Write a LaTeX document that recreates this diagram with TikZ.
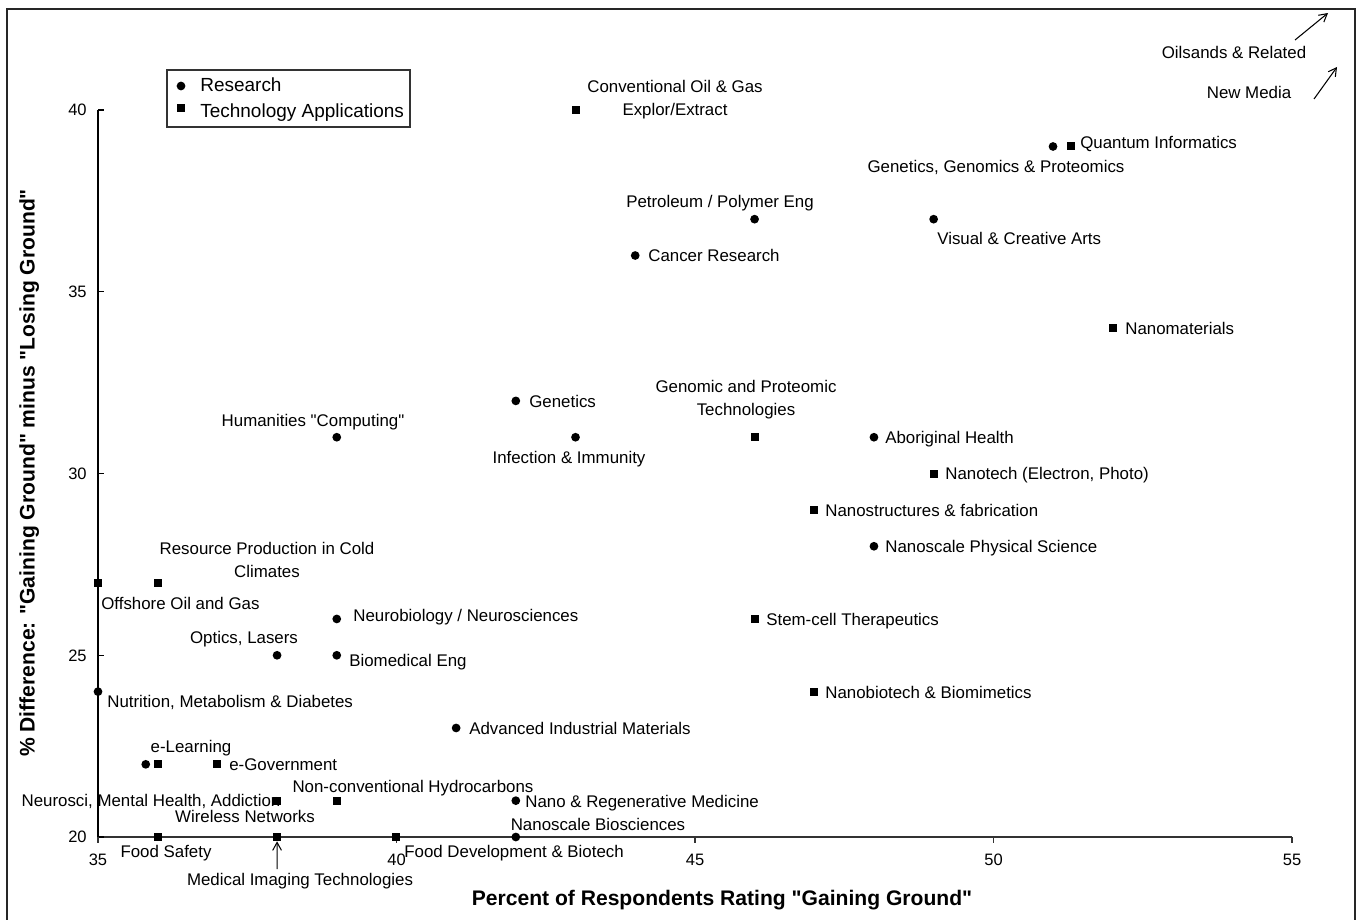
\documentclass[tikz,border=0pt]{standalone}
\usepackage{fontspec}
\setmainfont{Liberation Sans}[Ligatures=TeXOff]
\usetikzlibrary{arrows.meta}
\newcommand\lblfont{\fontsize{9.6}{12.6}\selectfont}
\newcommand\tickfont{\fontsize{9.4}{11}\selectfont}
\newcommand\legfont{\fontsize{10.8}{13.4}\selectfont}
\newcommand\titfont{\fontsize{12}{14}\selectfont\bfseries}
\tikzset{
  rdot/.style={circle, fill=black, inner sep=0pt, minimum size=0.175cm},
  tsq/.style={rectangle, fill=black, inner sep=0pt, minimum size=0.16cm},
  lbl/.style={font=\lblfont, inner sep=0pt, text height=6.9pt, text depth=0pt, align=center},
  lblw/.style={lbl, anchor=west},
  tick lbl/.style={font=\tickfont, inner sep=0pt, text height=6.7pt, text depth=0pt},
  leg lbl/.style={font=\legfont, inner sep=0pt, text height=7.7pt, text depth=0pt, anchor=west},
  axtitle/.style={font=\titfont, inner sep=0pt, text height=8.6pt, text depth=0pt},
  arr/.style={-{Straight Barb[length=4.5pt,width=5pt]}, line width=0.6pt},
}
\begin{document}
\begin{tikzpicture}[x=0.02cm, y=-0.02cm]
\useasboundingbox (0,0) rectangle (1361,919);
% outer frame
\draw[line width=0.75pt, black!85] (7,925) -- (7,9) -- (1355,9) -- (1355,925);
% axes
\draw[line width=0.6pt] (98,110) -- (98,837);
\draw[line width=0.6pt, black!80] (98,837) -- (1292,837);
\foreach \yy in {110,291.75,473.5,655.25,837} \draw[line width=0.6pt] (98,\yy) -- (104,\yy);
\foreach \xx in {98,396.5,695,993.5,1292} \draw[line width=0.6pt, black!80] (\xx,837) -- (\xx,843);
% tick labels
\node[tick lbl, anchor=east] (ty40) at (87,110) {40};
\node[tick lbl, anchor=east] (ty35) at (87,292) {35};
\node[tick lbl, anchor=east] (ty30) at (87,474) {30};
\node[tick lbl, anchor=east] (ty25) at (87,656) {25};
\node[tick lbl, anchor=east] (ty20) at (87,837) {20};
\node[tick lbl] (tx35) at (98,860) {35};
\node[tick lbl] (tx40) at (396.5,860) {40};
\node[tick lbl] (tx45) at (695,860) {45};
\node[tick lbl] (tx50) at (993.5,860) {50};
\node[tick lbl] (tx55) at (1292,860) {55};
% axis titles
\node[axtitle] (xtitle) at (722,898) {Percent of Respondents Rating "Gaining Ground"};
\node[axtitle, rotate=90] (ytitle) at (27,473) {\% Difference: "Gaining Ground" minus "Losing Ground"};
% legend
\node[draw=black!80, line width=0.6pt, minimum width=4.86cm, minimum height=1.14cm, inner sep=0pt] (legend) at (288.5,98.5) {};
\node[rdot] (legdot) at (181,86) {};
\node[tsq] (legsq) at (181,108) {};
\node[leg lbl] (legres) at (200,85) {Research};
\node[leg lbl] (legtech) at (200,111) {Technology Applications};
% data markers
\begin{scope}[shift={(98,837)}, x=1.194cm, y=0.727cm, shift={(-35,-20)}]
  % research
  \node[rdot] (c1) at (51,39) {};
  \node[rdot] (c2) at (46,37) {};
  \node[rdot] (c3) at (49,37) {};
  \node[rdot] (c4) at (44,36) {};
  \node[rdot] (c5) at (42,32) {};
  \node[rdot] (c6) at (43,31) {};
  \node[rdot] (c7) at (39,31) {};
  \node[rdot] (c8) at (48,31) {};
  \node[rdot] (c9) at (48,28) {};
  \node[rdot] (c10) at (39,26) {};
  \node[rdot] (c11) at (38,25) {};
  \node[rdot] (c12) at (39,25) {};
  \node[rdot] (c13) at (35,24) {};
  \node[rdot] (c14) at (41,23) {};
  \node[rdot] (c15) at (35.8,22) {};
  \node[rdot] (c16) at (42,21) {};
  \node[rdot] (c17) at (42,20) {};
  % technology applications
  \node[tsq] (s1) at (43,40) {};
  \node[tsq] (s2) at (51.3,39) {};
  \node[tsq] (s3) at (52,34) {};
  \node[tsq] (s4) at (46,31) {};
  \node[tsq] (s5) at (49,30) {};
  \node[tsq] (s6) at (47,29) {};
  \node[tsq] (s7) at (36,27) {};
  \node[tsq] (s8) at (35,27) {};
  \node[tsq] (s9) at (46,26) {};
  \node[tsq] (s10) at (47,24) {};
  \node[tsq] (s11) at (36,22) {};
  \node[tsq] (s12) at (37,22) {};
  \node[tsq] (s13) at (38,21) {};
  \node[tsq] (s14) at (39,21) {};
  \node[tsq] (s15) at (36,20) {};
  \node[tsq] (s16) at (38,20) {};
  \node[tsq] (s17) at (40,20) {};
\end{scope}
% labels
\node[lbl] (l1) at (675,109) {Conventional Oil \& Gas\\Explor/Extract};
\node[lbl] (l2) at (1234,52) {Oilsands \& Related};
\node[lbl] (l3) at (1249,92) {New Media};
\node[lblw] (l4) at (1080,142) {Quantum Informatics};
\node[lbl] (l5) at (996,166) {Genetics, Genomics \& Proteomics};
\node[lbl] (l6) at (720,201) {Petroleum / Polymer Eng};
\node[lblw] (l7) at (937,238) {Visual \& Creative Arts};
\node[lblw] (l8) at (648,255) {Cancer Research};
\node[lblw] (l9) at (1125,328) {Nanomaterials};
\node[lblw] (l10) at (529,401) {Genetics};
\node[lbl] (l11) at (313,420) {Humanities "Computing"};
\node[lbl] (l12) at (746,409) {Genomic and Proteomic\\Technologies};
\node[lblw] (l13) at (885,437) {Aboriginal Health};
\node[lbl] (l14) at (569,457) {Infection \& Immunity};
\node[lblw] (l15) at (945,473) {Nanotech (Electron, Photo)};
\node[lblw] (l16) at (825,510) {Nanostructures \& fabrication};
\node[lblw] (l17) at (885,546) {Nanoscale Physical Science};
\node[lbl] (l18) at (267,571) {Resource Production in Cold\\Climates};
\node[lblw] (l19) at (101,603) {Offshore Oil and Gas};
\node[lblw] (l20) at (353,615) {Neurobiology / Neurosciences};
\node[lblw] (l21) at (766,619) {Stem-cell Therapeutics};
\node[lbl] (l22) at (244,637) {Optics, Lasers};
\node[lblw] (l23) at (349,660) {Biomedical Eng};
\node[lblw] (l24) at (107,701) {Nutrition, Metabolism \& Diabetes};
\node[lblw] (l25) at (825,692) {Nanobiotech \& Biomimetics};
\node[lblw] (l26) at (469,728) {Advanced Industrial Materials};
\node[lbl] (l27) at (191,746) {e-Learning};
\node[lblw] (l28) at (229,764) {e-Government};
\node[lbl] (l29) at (151,800) {Neurosci, Mental Health, Addiction};
\node[lbl] (l30) at (413,786) {Non-conventional Hydrocarbons};
\node[lblw] (l31) at (525,801) {Nano \& Regenerative Medicine};
\node[lbl] (l32) at (245,816) {Wireless Networks};
\node[lbl] (l33) at (598,824) {Nanoscale Biosciences};
\node[lbl] (l34) at (166,851) {Food Safety};
\node[lblw] (l35) at (404,851) {Food Development \& Biotech};
\node[lbl] (l36) at (300,879) {Medical Imaging Technologies};
% arrows
\coordinate (oila) at (1295,40);
\coordinate (oilb) at (1328,13);
\draw[arr] (oila) -- (oilb);
\coordinate (nma) at (1314,99);
\coordinate (nmb) at (1337,67);
\draw[arr] (nma) -- (nmb);
\coordinate (mia) at (277.1,869);
\draw[arr] (mia) -- (s16.south);
\end{tikzpicture}
\end{document}
